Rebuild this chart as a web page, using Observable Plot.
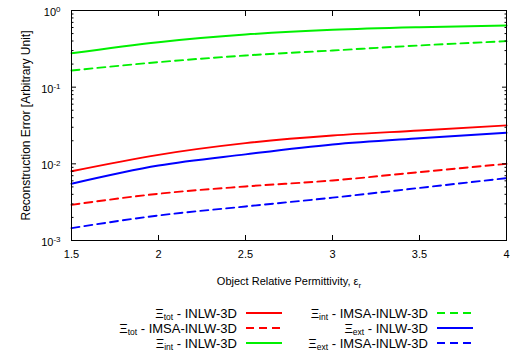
<!DOCTYPE html>
<html>
<head>
<meta charset="utf-8">
<script src="https://cdn.jsdelivr.net/npm/d3@7"></script>
<script src="https://cdn.jsdelivr.net/npm/@observablehq/plot@0.6"></script>
<style>
  body { margin: 0; background: #fff; }
  #wrap { position: relative; width: 519px; height: 360px; font-family: "Liberation Sans", Arial, sans-serif; font-size: 13px; color: #000; }
  #wrap svg.plot { position: absolute; left: 0; top: 0; }
  .leg { position: absolute; display: flex; align-items: center; line-height: 13px; height: 13px; }
  .leg .lab { text-align: right; white-space: nowrap; }
  .leg sub { font-size: 8.5px; vertical-align: -2px; line-height: 0; }
  .leg svg { margin-left: 9px; }
</style>
</head>
<body>
<div id="wrap"></div>
<script>
// ---- data ----
const eps = [1.5, 2, 2.5, 3, 3.5, 4];
const totINLW = [0.0080, 0.0131, 0.0186, 0.0234, 0.0272, 0.0317];
const totIMSA = [0.00292, 0.00407, 0.00507, 0.00607, 0.0078, 0.0100];
const intINLW = [0.277, 0.386, 0.486, 0.56, 0.606, 0.637];
const intIMSA = [0.165, 0.212, 0.259, 0.301, 0.35, 0.398];
const extINLW = [0.0055, 0.0095, 0.0133, 0.0179, 0.0216, 0.0254];
const extIMSA = [0.00145, 0.00212, 0.00278, 0.00362, 0.00485, 0.00651];

const xTicks = [1.5, 2, 2.5, 3, 3.5, 4];
const xTickLabels = ["1.5", "2", "2.5", "3", "3.5", "4"];
const yMajor = [1e-3, 1e-2, 1e-1, 1];
const yMajorLabels = ["-3", "-2", "-1", "0"];

const seriesDefs = [
  {sym: "tot", name: "INLW-3D", values: totINLW, color: "#ff0000", dashed: false},
  {sym: "tot", name: "IMSA-INLW-3D", values: totIMSA, color: "#ff0000", dashed: true},
  {sym: "int", name: "INLW-3D", values: intINLW, color: "#00f000", dashed: false},
  {sym: "int", name: "IMSA-INLW-3D", values: intIMSA, color: "#00f000", dashed: true},
  {sym: "ext", name: "INLW-3D", values: extINLW, color: "#0000ff", dashed: false},
  {sym: "ext", name: "IMSA-INLW-3D", values: extIMSA, color: "#0000ff", dashed: true}
];

const yMinor = [];
for (const d of [1e-3, 1e-2, 1e-1]) for (let k = 2; k <= 9; k++) yMinor.push(d * k);

const lineMarks = seriesDefs.map(s =>
  Plot.line(eps.map((e, i) => ({x: e, y: s.values[i]})), {
    x: "x", y: "y", stroke: s.color, strokeWidth: 1.9,
    strokeDasharray: s.dashed ? "8,5" : null, curve: "monotone-x"
  })
);

const chart = Plot.plot({
  width: 519,
  height: 290,
  marginTop: 10,
  marginBottom: 50,
  marginLeft: 71,
  marginRight: 13,
  style: {fontFamily: "'Liberation Sans', Arial, sans-serif", fontSize: "11px", color: "#000", background: "#fff"},
  x: {domain: [1.5, 4]},
  y: {type: "log", domain: [1e-3, 1]},
  marks: [
    ...lineMarks,
    Plot.frame({stroke: "#000", strokeWidth: 1}),
    // labels
    Plot.axisX(xTicks, {anchor: "bottom", tickSize: 0, tickPadding: 10, fontSize: 11,
      tickFormat: d => xTickLabels[xTicks.indexOf(d)],
      label: "Object Relative Permittivity, εr", labelAnchor: "center", labelArrow: "none", labelOffset: 44}),
    Plot.axisY(yMajor, {anchor: "left", tickSize: 0, tickPadding: 11, fontSize: 11, dy: 2,
      tickFormat: d => yMajorLabels[yMajor.indexOf(d)],
      label: null}),
    Plot.axisY(yMajor, {anchor: "left", tickSize: 0, tickFormat: () => "",
      label: "Reconstruction Error [Arbitrary Unit]", labelAnchor: "center", labelArrow: "none", labelOffset: 50}),
    // inward ticks (all four sides)
    Plot.axisX(xTicks, {anchor: "bottom", tickSize: -5, tickFormat: () => "", label: null}),
    Plot.axisX(xTicks, {anchor: "top", tickSize: -5, tickFormat: () => "", label: null}),
    Plot.axisY(yMajor, {anchor: "left", tickSize: -5, tickFormat: () => "", label: null}),
    Plot.axisY(yMajor, {anchor: "right", tickSize: -5, tickFormat: () => "", label: null}),
    Plot.axisY(yMinor, {anchor: "left", tickSize: -2.5, tickFormat: () => "", label: null}),
    Plot.axisY(yMinor, {anchor: "right", tickSize: -2.5, tickFormat: () => "", label: null})
  ]
});
chart.classList.add("plot");

// superscript exponents on y tick labels, subscript on x label, larger y label
chart.querySelectorAll('g[aria-label="y-axis tick label"] text').forEach(t => {
  const e = t.textContent;
  if (e === "") return;
  t.textContent = "10";
  const ts = document.createElementNS("http://www.w3.org/2000/svg", "tspan");
  ts.setAttribute("dy", "-0.45em");
  ts.setAttribute("font-size", "8px");
  ts.textContent = e;
  t.appendChild(ts);
});
chart.querySelectorAll('g[aria-label="x-axis label"] text').forEach(t => {
  const s = t.textContent;
  if (!s.endsWith("εr")) return;
  t.textContent = s.slice(0, -1);
  const ts = document.createElementNS("http://www.w3.org/2000/svg", "tspan");
  ts.setAttribute("dy", "3");
  ts.setAttribute("font-size", "8px");
  ts.textContent = "r";
  t.appendChild(ts);
});
chart.querySelectorAll('g[aria-label="y-axis label"]').forEach(g => {
  g.setAttribute("font-size", "12");
  g.querySelectorAll("text").forEach(t => t.setAttribute("font-size", "12"));
});

const wrap = document.getElementById("wrap");
wrap.appendChild(chart);

// legend (two columns, column-major order)
const legendPos = [
  {right: 237, top: 306.5}, {right: 237, top: 321.5}, {right: 237, top: 336.5},
  {right: 428, top: 306.5}, {right: 428, top: 321.5}, {right: 428, top: 336.5}
];
seriesDefs.forEach((s, i) => {
  const p = legendPos[i];
  const item = document.createElement("div");
  item.className = "leg";
  item.style.left = (p.right - 200) + "px";
  item.style.top = p.top + "px";
  item.innerHTML = `<span class="lab" style="width:200px">Ξ<sub>${s.sym}</sub> - ${s.name}</span>` +
    `<svg width="36" height="6"><line x1="0" y1="3" x2="36" y2="3" stroke="${s.color}" stroke-width="1.9" ${s.dashed ? 'stroke-dasharray="8,5"' : ''}/></svg>`;
  wrap.appendChild(item);
});
</script>
</body>
</html>
